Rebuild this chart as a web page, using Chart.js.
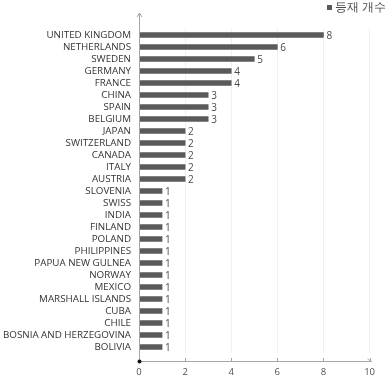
<!DOCTYPE html>
<html>
<head>
<meta charset="utf-8">
<script src="https://cdn.jsdelivr.net/npm/chart.js@4/dist/chart.umd.min.js"></script>
<style>
  html, body { margin: 0; padding: 0; background: #fff; }
  #wrap { width: 389px; height: 381px; }
</style>
</head>
<body>
<div id="wrap"><canvas id="c"></canvas></div>
<script>
const countries = [
  'UNITED KINGDOM', 'NETHERLANDS', 'SWEDEN', 'GERMANY', 'FRANCE', 'CHINA', 'SPAIN',
  'BELGIUM', 'JAPAN', 'SWITZERLAND', 'CANADA', 'ITALY', 'AUSTRIA', 'SLOVENIA', 'SWISS',
  'INDIA', 'FINLAND', 'POLAND', 'PHILIPPINES', 'PAPUA NEW GULNEA', 'NORWAY', 'MEXICO',
  'MARSHALL ISLANDS', 'CUBA', 'CHILE', 'BOSNIA AND HERZEGOVINA', 'BOLIVIA'
];
const counts = [8, 6, 5, 4, 4, 3, 3, 3, 2, 2, 2, 2, 2, 1, 1, 1, 1, 1, 1, 1, 1, 1, 1, 1, 1, 1, 1];
const seriesName = '등재 개수';
const xTicks = [0, 2, 4, 6, 8, 10];

const FONT = "'Open Sans', 'Noto Sans', sans-serif";

// axis lines with arrows, value labels and the little legend
const decor = {
  id: 'decor',
  afterDatasetsDraw(chart) {
    const { ctx, chartArea: a, scales } = chart;
    const axisY = a.bottom + 8;
    ctx.save();
    ctx.strokeStyle = '#a6a6a6';
    ctx.lineWidth = 1;
    ctx.beginPath();
    ctx.moveTo(a.left + 0.5, axisY);
    ctx.lineTo(a.left + 0.5, 13);
    ctx.moveTo(a.left, axisY + 0.5);
    ctx.lineTo(a.right + 2, axisY + 0.5);
    // arrows
    ctx.moveTo(a.left - 2, 17);
    ctx.lineTo(a.left + 0.5, 13);
    ctx.lineTo(a.left + 3, 17);
    ctx.moveTo(a.right - 2, axisY - 2);
    ctx.lineTo(a.right + 2, axisY + 0.5);
    ctx.stroke();
    // tick marks
    xTicks.forEach(v => {
      const x = Math.round(scales.x.getPixelForValue(v)) + 0.5;
      if (v === 0) return;
      ctx.beginPath();
      ctx.moveTo(x, axisY - 3);
      ctx.lineTo(x, axisY);
      ctx.stroke();
    });
    // origin dot
    ctx.fillStyle = '#111';
    ctx.beginPath();
    ctx.arc(a.left + 0.5, axisY + 0.5, 2, 0, Math.PI * 2);
    ctx.fill();

    // value labels
    ctx.fillStyle = '#4a4a4a';
    ctx.font = '10px ' + FONT;
    ctx.textBaseline = 'middle';
    ctx.textAlign = 'left';
    chart.getDatasetMeta(0).data.forEach((bar, i) => {
      ctx.fillText(String(counts[i]), bar.x + 3, bar.y + 1);
    });

    // legend
    ctx.fillStyle = '#595959';
    ctx.fillRect(327, 5, 5, 5);
    ctx.fillStyle = '#4a4a4a';
    ctx.font = '11.5px ' + FONT;
    ctx.textBaseline = 'middle';
    ctx.fillText(seriesName, 335, 8);
    ctx.restore();
  }
};

new Chart(document.getElementById('c'), {
  type: 'bar',
  data: {
    labels: countries,
    datasets: [{
      label: seriesName,
      data: counts,
      backgroundColor: '#5a5a5a',
      barThickness: 5,
    }],
  },
  options: {
    indexAxis: 'y',
    responsive: true,
    maintainAspectRatio: false,
    animation: false,
    layout: { padding: { top: 29, right: 17, left: 0, bottom: 0 } },
    plugins: { legend: { display: false }, tooltip: { enabled: false } },
    scales: {
      x: {
        min: 0,
        max: 10,
        afterFit(s) { s.height = 28; },
        afterBuildTicks(s) { s.ticks = xTicks.map(v => ({ value: v })); },
        border: { display: false },
        grid: { color: '#f0f0f0', drawTicks: false },
        ticks: { color: '#505050', font: { family: FONT, size: 9.5 }, padding: 14 },
      },
      y: {
        afterFit(s) { s.width = 139; },
        border: { display: false },
        grid: { display: false, drawTicks: false },
        ticks: { color: '#333', font: { family: FONT, size: 9.8 }, padding: 8, autoSkip: false },
      },
    },
  },
  plugins: [decor],
});
</script>
</body>
</html>
